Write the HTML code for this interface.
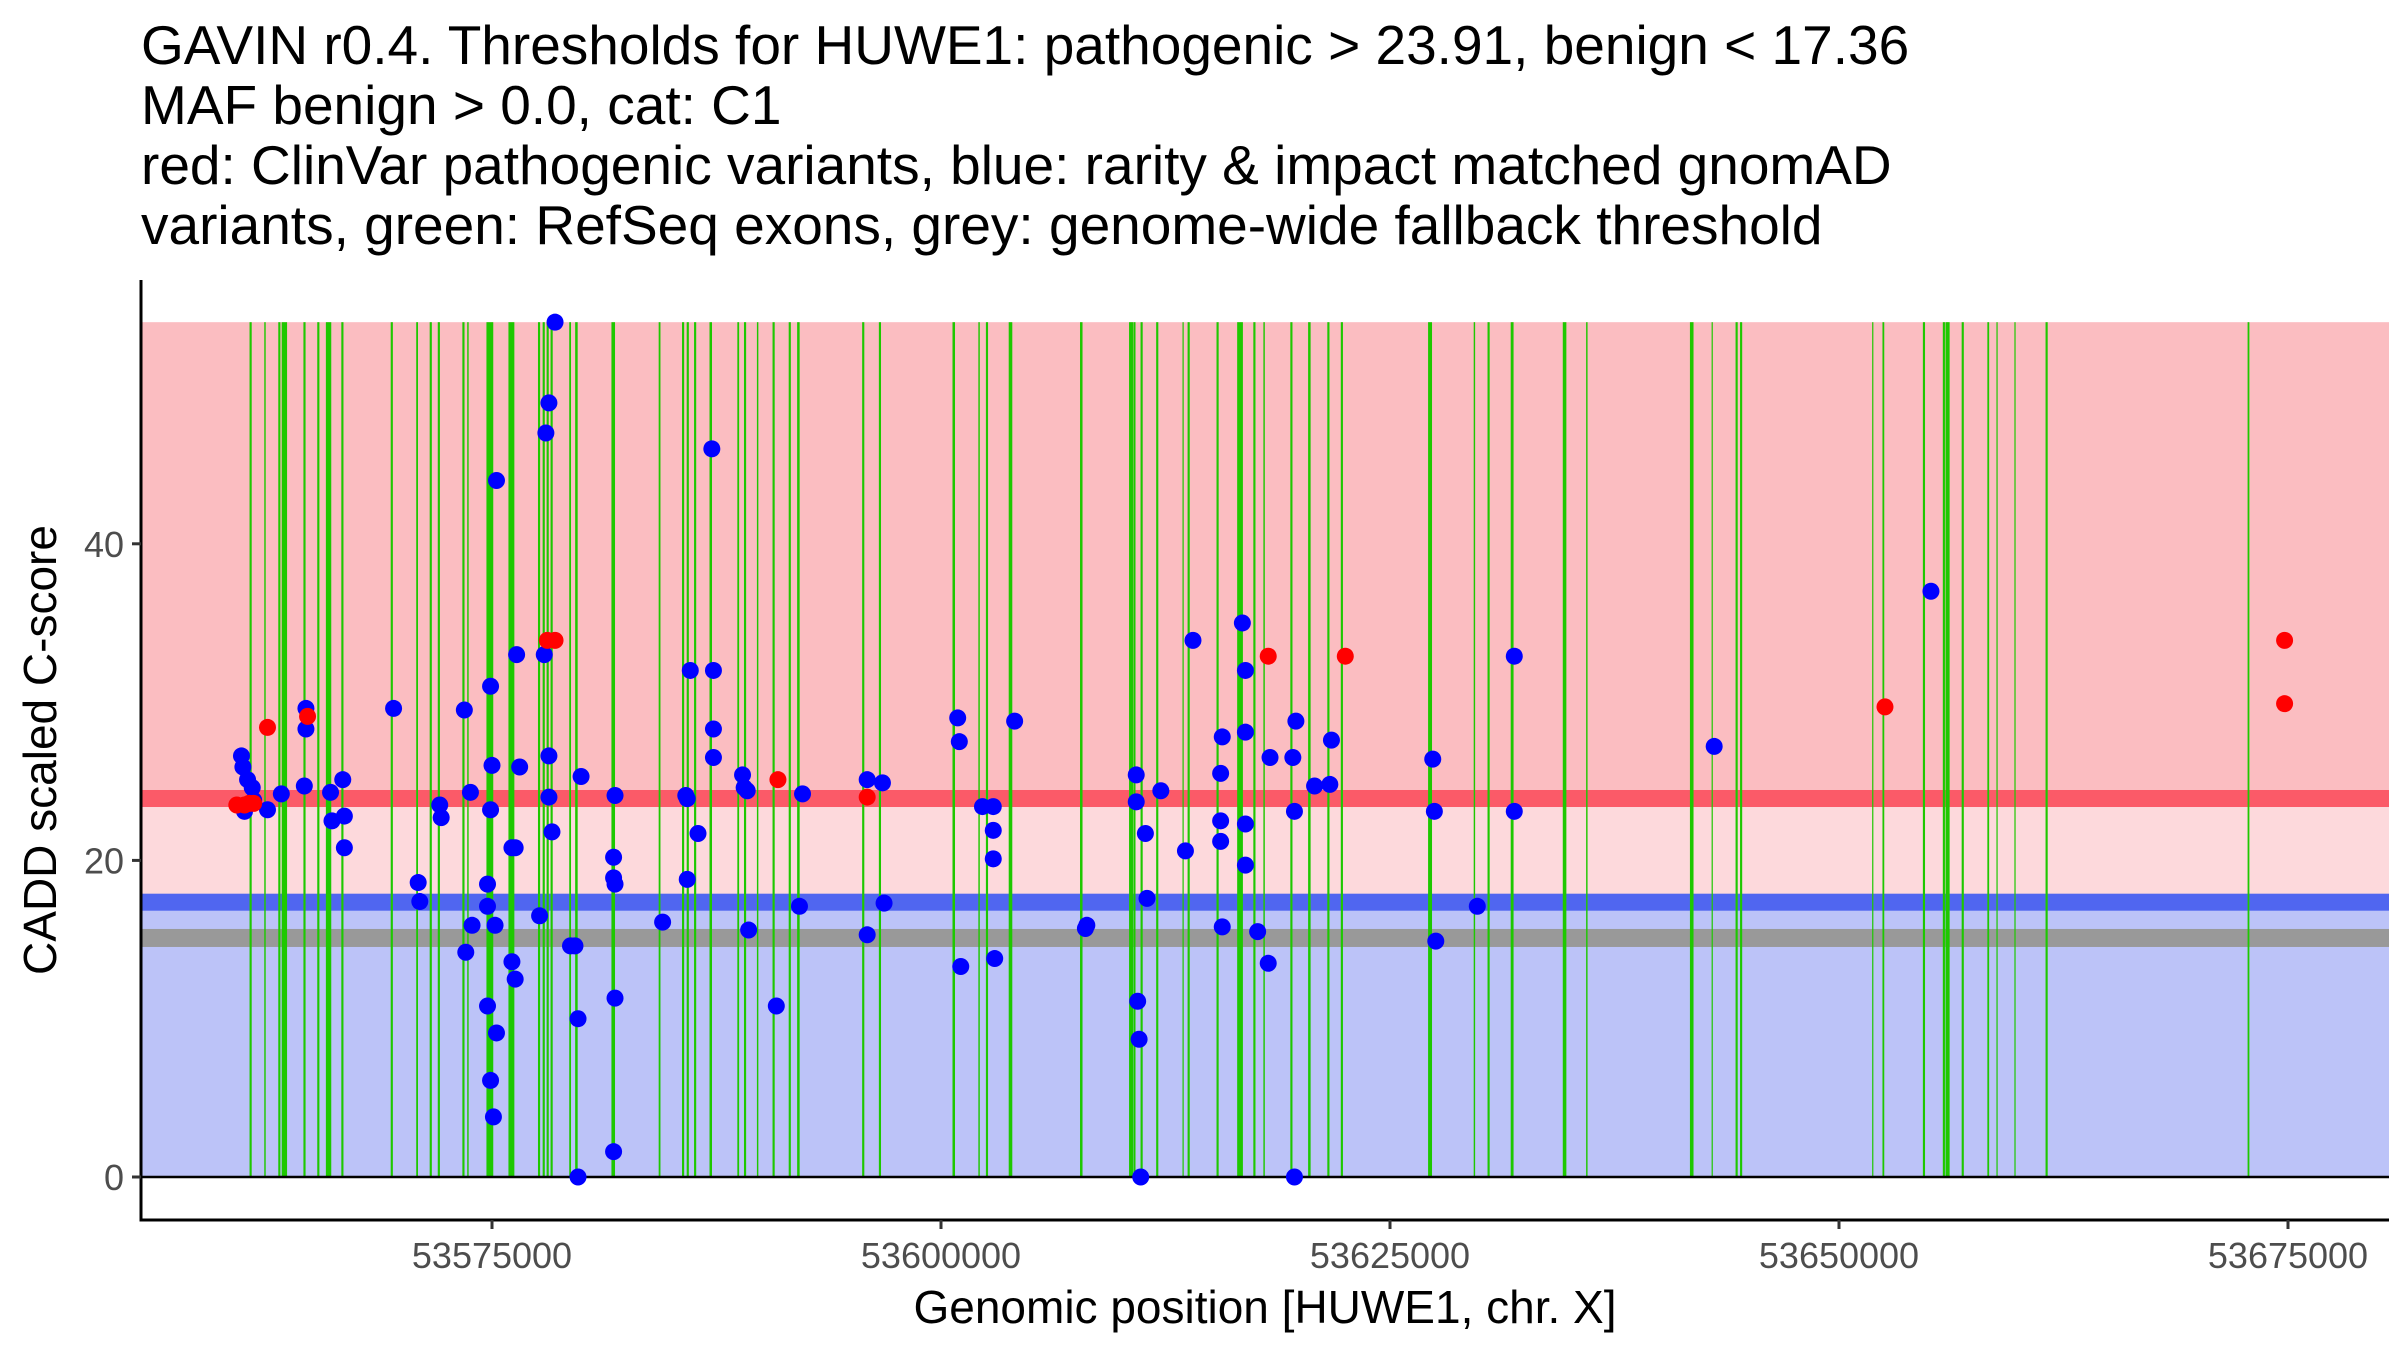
<!DOCTYPE html>
<html><head><meta charset="utf-8"><style>
html,body{margin:0;padding:0;background:#fff;}
svg{display:block;font-family:"Liberation Sans",Arial,sans-serif;}
</style></head><body>
<svg id="chart" width="2400" height="1350" viewBox="0 0 2400 1350" xmlns="http://www.w3.org/2000/svg">
<g font-size="55" fill="#000">
<text x="141" y="64">GAVIN r0.4. Thresholds for HUWE1: pathogenic &gt; 23.91, benign &lt; 17.36</text>
<text x="141" y="124">MAF benign &gt; 0.0, cat: C1</text>
<text x="141" y="184">red: ClinVar pathogenic variants, blue: rarity &amp; impact matched gnomAD</text>
<text x="141" y="244">variants, green: RefSeq exons, grey: genome-wide fallback threshold</text>
</g>
<g id="plot"></g>
</svg>
<script>
// data (positions in kb)
const pathoThr = 23.91;
const benignThr = 17.36;
const fallbackThr = 15.1;
const yMax = 54;
const exonStart = [53561.56,53562.36,53563.16,53563.44,53564.56,53565.33,53565.90,53566.67,53569.42,53570.83,53571.59,53572.04,53573.41,53573.66,53574.88,53576.08,53577.62,53577.88,53578.10,53578.32,53579.35,53579.70,53581.75,53584.33,53585.64,53585.90,53586.31,53587.18,53588.71,53589.09,53589.79,53590.68,53591.58,53592.06,53595.67,53596.60,53600.71,53602.12,53602.56,53603.87,53607.81,53610.58,53610.77,53611.17,53612.04,53613.48,53613.79,53615.40,53616.60,53616.75,53617.45,53617.99,53619.51,53620.51,53621.57,53622.32,53627.23,53629.70,53630.49,53631.80,53634.72,53635.96,53641.80,53642.94,53644.30,53644.55,53651.88,53652.47,53654.73,53655.84,53655.99,53656.10,53656.89,53658.31,53658.80,53659.80,53661.56,53672.80];
const exonWidth = [0.12,0.08,0.12,0.3,0.12,0.12,0.3,0.12,0.12,0.1,0.12,0.12,0.12,0.08,0.38,0.33,0.12,0.12,0.12,0.12,0.1,0.14,0.2,0.1,0.12,0.12,0.12,0.14,0.1,0.12,0.08,0.12,0.12,0.14,0.12,0.12,0.14,0.08,0.12,0.2,0.14,0.22,0.12,0.12,0.12,0.05,0.12,0.12,0.22,0.12,0.12,0.08,0.12,0.14,0.12,0.12,0.22,0.08,0.12,0.16,0.2,0.08,0.2,0.05,0.12,0.12,0.05,0.1,0.12,0.12,0.12,0.12,0.12,0.1,0.06,0.05,0.12,0.1];
const bluePos = [53561.05,53561.13,53561.39,53561.65,53561.73,53561.22,53562.50,53563.27,53564.64,53564.64,53564.55,53566.01,53566.09,53566.69,53566.78,53566.78,53569.52,53570.89,53570.98,53572.09,53572.17,53573.46,53573.54,53573.80,53573.89,53574.75,53574.75,53574.75,53574.92,53574.92,53574.92,53575.00,53575.08,53575.17,53575.25,53575.25,53576.11,53576.29,53576.11,53576.29,53576.37,53576.54,53577.65,53577.91,53578.00,53578.17,53578.17,53578.17,53578.34,53578.51,53579.37,53579.62,53579.79,53579.79,53579.96,53581.85,53581.77,53581.77,53581.85,53581.85,53581.77,53584.50,53585.79,53585.87,53585.87,53586.04,53586.47,53587.24,53587.33,53587.33,53587.33,53588.95,53589.04,53589.21,53589.29,53590.83,53592.12,53592.29,53595.89,53595.89,53596.74,53596.83,53600.93,53601.02,53601.10,53602.31,53602.91,53602.91,53602.91,53602.99,53604.10,53608.04,53608.12,53610.87,53610.87,53610.95,53611.03,53611.12,53611.38,53611.47,53612.24,53613.61,53614.03,53615.57,53615.57,53615.57,53615.66,53615.66,53616.78,53616.95,53616.95,53616.95,53616.95,53617.63,53618.22,53618.32,53619.59,53619.76,53619.68,53619.68,53620.80,53621.65,53621.74,53627.38,53627.47,53627.55,53629.86,53631.92,53631.92,53643.05,53655.12];
const blueScore = [26.6,25.9,25.1,24.6,23.8,23.1,23.2,24.2,29.6,28.3,24.7,24.3,22.5,25.1,22.8,20.8,29.6,18.6,17.4,23.5,22.7,29.5,14.2,24.3,15.9,18.5,17.1,10.8,23.2,6.1,31.0,26.0,3.8,15.9,44.0,9.1,20.8,20.8,13.6,12.5,33.0,25.9,16.5,33.0,47.0,48.9,26.6,24.0,21.8,54.0,14.6,14.6,0.0,10.0,25.3,24.1,20.2,18.9,18.5,11.3,1.6,16.1,24.1,23.9,18.8,32.0,21.7,46.0,32.0,28.3,26.5,25.4,24.6,24.4,15.6,10.8,17.1,24.2,15.3,25.1,24.9,17.3,29.0,27.5,13.3,23.4,21.9,23.4,20.1,13.8,28.8,15.7,15.9,25.4,23.7,11.1,8.7,0.0,21.7,17.6,24.4,20.6,33.9,21.2,22.5,25.5,27.8,15.8,35.0,28.1,32.0,19.7,22.3,15.5,13.5,26.5,26.5,28.8,23.1,0.0,24.7,24.8,27.6,26.4,23.1,14.9,17.1,32.9,23.1,27.2,37.0];
const redPos = [53560.79,53561.22,53561.48,53561.73,53562.50,53564.73,53578.08,53578.51,53590.92,53595.89,53618.22,53622.51,53652.56,53674.81,53674.81];
const redScore = [23.5,23.5,23.6,23.6,28.4,29.1,33.9,33.9,25.1,24.0,32.9,32.9,29.7,33.9,29.9];
const xTicks = [53575000,53600000,53625000,53650000,53675000];
const yTicks = [0,20,40];

const NS='http://www.w3.org/2000/svg';
const L=141, R=2389, AXY=1220;
function xs(kb){return 492+(kb-53575)*17.96;}
function ys(v){return 1177-v*15.83;}
const g=document.getElementById('plot');
function mk(tag,attrs,parent){const e=document.createElementNS(NS,tag);for(const k in attrs)e.setAttribute(k,attrs[k]);(parent||g).appendChild(e);return e;}

let e;
e=mk('rect',{x:L,y:ys(yMax),width:R-L,height:ys(pathoThr)-ys(yMax),fill:'#fbbdc1'});


e=mk('rect',{x:L,y:ys(pathoThr),width:R-L,height:ys(benignThr)-ys(pathoThr),fill:'#fdd9dc'});


e=mk('rect',{x:L,y:ys(benignThr),width:R-L,height:ys(0)-ys(benignThr),fill:'#bcc3f8'});


e=mk('rect',{x:L,y:ys(pathoThr)-8.5,width:R-L,height:17,fill:'#fb5a68'});


e=mk('rect',{x:L,y:ys(benignThr)-8.5,width:R-L,height:17,fill:'#5066f0'});


e=mk('rect',{x:L,y:ys(fallbackThr)-9,width:R-L,height:18,fill:'#999999'});



for(let i=0;i<exonStart.length;i++){
  const w=Math.max(1.2,exonWidth[i]*17.96);
  e=mk('rect',{x:xs(exonStart[i])-w/2,y:ys(yMax),width:w,height:ys(0)-ys(yMax),fill:'#1ec800'});
  
  
}
e=mk('line',{x1:L,x2:R,y1:ys(0),y2:ys(0),stroke:'#000','stroke-width':2.5});



for(let i=0;i<bluePos.length;i++){
  e=mk('circle',{cx:xs(bluePos[i]),cy:ys(blueScore[i]),r:8.5,fill:'#0000ff'});
  
  
}
for(let i=0;i<redPos.length;i++){
  e=mk('circle',{cx:xs(redPos[i]),cy:ys(redScore[i]),r:8.5,fill:'#ff0000'});
  
  
}

e=mk('line',{x1:L,x2:L,y1:280,y2:AXY+1.5,stroke:'#000','stroke-width':3});


e=mk('line',{x1:L-1.5,x2:R,y1:AXY,y2:AXY,stroke:'#000','stroke-width':3});



for(const t of xTicks){
  const x=xs(t/1000);
  e=mk('line',{x1:x,x2:x,y1:AXY,y2:AXY+9,stroke:'#333','stroke-width':3});
  
  
  e=mk('text',{x:x,y:AXY+48,'text-anchor':'middle','font-size':36,fill:'#4d4d4d'});
  e.textContent=String(t);
  
  
}
for(const t of yTicks){
  const y=ys(t);
  e=mk('line',{x1:L-9,x2:L,y1:y,y2:y,stroke:'#333','stroke-width':3});
  
  
  e=mk('text',{x:L-17,y:y+13,'text-anchor':'end','font-size':36,fill:'#4d4d4d'});
  e.textContent=String(t);
  
  
}
e=mk('text',{x:1265,y:1323,'text-anchor':'middle','font-size':46,fill:'#000'});
e.textContent='Genomic position [HUWE1, chr. X]';


e=mk('text',{x:0,y:0,'text-anchor':'middle','font-size':46,fill:'#000',transform:'translate(56,750) rotate(-90)'});
e.textContent='CADD scaled C-score';


</script>
</body></html>
